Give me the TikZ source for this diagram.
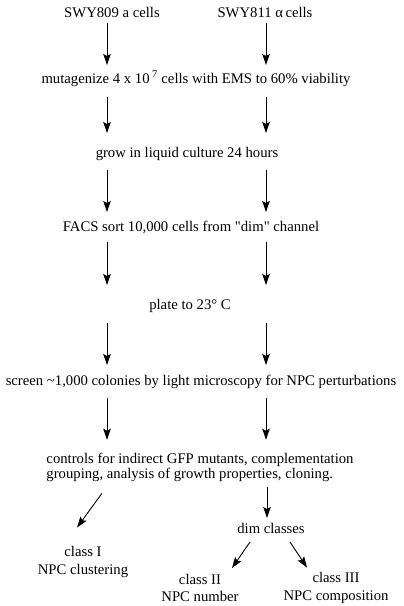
\documentclass[tikz,border=0pt]{standalone}
\usepackage{fontspec}
\setmainfont{Liberation Serif}
\usetikzlibrary{arrows.meta}
\begin{document}
\begin{tikzpicture}[x=1pt,y=-1pt]
        \tikzset{flow/.style={line width=0.9pt, -{Stealth[length=11pt,width=7.5pt,inset=2pt]}},
                 txt/.style={font=\fontsize{14.7}{15}\selectfont, inner sep=0pt, outer sep=0pt, align=center},
                 row/.style={txt, text height=10pt, text depth=3pt, anchor=base},
                 cls/.style={txt, font=\fontsize{14.7}{17.5}\selectfont}}
        \useasboundingbox (0,0) rectangle (404,606);
        \coordinate (L) at (107,0);
        \coordinate (R) at (266,0);
        \node[row] (amat) at (112,17) {SWY809 a cells};
        \node[row] (alphamat) at (265,17) {SWY811 α\,cells};
        \node[row] (mutagen) at (196,83) {mutagenize 4 x 10\,\textsuperscript{7} cells with EMS to 60\% viability};
        \node[row] (grow) at (187,157) {grow in liquid culture 24 hours};
        \node[row] (facs) at (191,231) {FACS sort 10,000 cells from \textquotedbl dim\textquotedbl\ channel};
        \node[row] (plate) at (190,309) {plate to 23° C};
        \node[row] (screen) at (201,385) {screen \textasciitilde1,000 colonies by light microscopy for NPC perturbations};
        \node[txt, align=left] (controls) at (200,467) {controls for indirect GFP mutants, complementation\\grouping, analysis of growth properties, cloning.};
        \node[row] (dim) at (271,533) {dim classes};
        \node[cls] (classI) at (83,562) {class I\\NPC clustering};
        \node[cls] (classII) at (200,588) {class II\\NPC number};
        \node[cls] (classIII) at (336,588) {class III\\NPC composition};
        \foreach \a/\b/\s/\e in {amat/mutagen/3/8, mutagen/grow/11/14, grow/facs/10/9,
                                 facs/plate/8/14, plate/screen/11/10, screen/controls/10/13}
        {
            \draw[flow] ([yshift=-\s pt]\a.south -| L) -- ([yshift=\e pt]\b.north -| L);
            \draw[flow] ([yshift=-\s pt]\a.south -| R) -- ([yshift=\e pt]\b.north -| R);
        }
        \draw[flow] ([yshift=-12pt]controls.south -| 102,0) -- ([yshift=19pt]classI.north -| 77,0);
        \draw[flow] ([yshift=-6pt]controls.south -| 267,0) -- ([yshift=5pt]dim.north -| 267,0);
        \draw[flow] ([yshift=-6pt]dim.south -| 250,0) -- ([yshift=6pt]classII.north -| 232,0);
        \draw[flow] ([yshift=-6pt]dim.south -| 290,0) -- ([yshift=5pt]classIII.north -| 307,0);
\end{tikzpicture}
\end{document}
